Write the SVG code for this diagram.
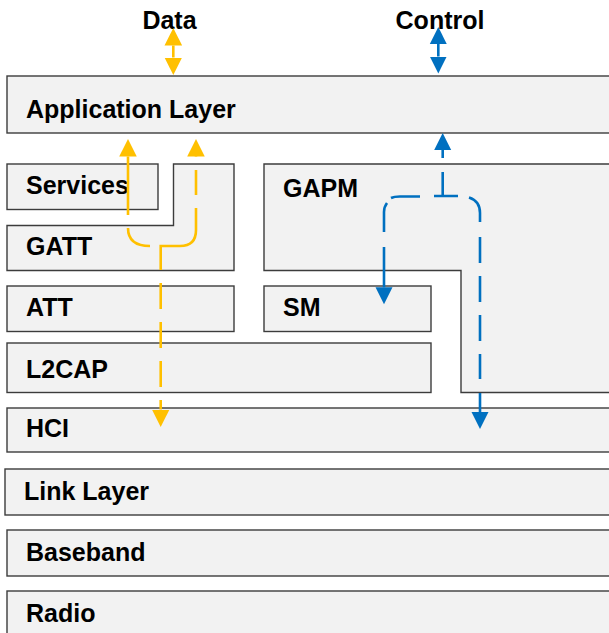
<svg xmlns="http://www.w3.org/2000/svg" width="609" height="633" viewBox="0 0 609 633">
<style>
.box{fill:#F2F2F2;stroke:#3C3C3C;stroke-width:1.4}
.lbl{font-family:"Liberation Sans",Arial,sans-serif;font-weight:bold;font-size:25px;fill:#000}
.y{fill:none;stroke:#FFC000;stroke-width:2.6}
.b{fill:none;stroke:#0070C0;stroke-width:2.6}
</style>
<defs>
<marker id="ay" markerUnits="userSpaceOnUse" markerWidth="18" markerHeight="18" viewBox="0 -8.5 17 17" refX="0" refY="0" orient="auto-start-reverse"><path d="M0,-8.3 L16.5,0 L0,8.3 z" fill="#FFC000"/></marker>
<marker id="ab" markerUnits="userSpaceOnUse" markerWidth="18" markerHeight="18" viewBox="0 -8.5 17 17" refX="0" refY="0" orient="auto-start-reverse"><path d="M0,-8 L16,0 L0,8 z" fill="#0070C0"/></marker>
</defs>
<g id="app"><rect class="box" x="7" y="76" width="612" height="57"/><text class="lbl" x="26" y="118">Application Layer</text></g>
<g id="services"><rect class="box" x="7" y="164" width="151" height="45.5"/><text class="lbl" x="26" y="193.5">Services</text></g>
<g id="gatt"><polygon class="box" points="7,225.5 173.5,225.5 173.5,164 234,164 234,270.5 7,270.5"/><text class="lbl" x="26" y="254.5">GATT</text></g>
<g id="att"><rect class="box" x="7" y="286" width="227" height="45.5"/><text class="lbl" x="26" y="315.5">ATT</text></g>
<g id="gapm"><polygon class="box" points="264,164 620,164 620,392.5 461,392.5 461,270.5 264,270.5"/><text class="lbl" x="283" y="196.5">GAPM</text></g>
<g id="sm"><rect class="box" x="264" y="286" width="167" height="45.5"/><text class="lbl" x="283" y="315.5">SM</text></g>
<g id="l2cap"><rect class="box" x="7" y="343" width="424" height="49.5"/><text class="lbl" x="26" y="377.5">L2CAP</text></g>
<g id="hci"><rect class="box" x="7" y="408" width="612" height="44"/><text class="lbl" x="26" y="437">HCI</text></g>
<g id="link"><rect class="box" x="5" y="469" width="614" height="46"/><text class="lbl" x="24" y="500">Link Layer</text></g>
<g id="baseband"><rect class="box" x="7" y="530" width="612" height="46"/><text class="lbl" x="26" y="561">Baseband</text></g>
<g id="radio"><rect class="box" x="7" y="591" width="612" height="50"/><text class="lbl" x="26" y="622">Radio</text></g>
<g id="labels">
<text class="lbl" x="169.5" y="28.5" text-anchor="middle">Data</text>
<text class="lbl" x="440" y="29" text-anchor="middle">Control</text>
</g>
<g id="connectors">
<path class="y" d="M173.3,45.5 V57.5" marker-start="url(#ay)" marker-end="url(#ay)"/>
<path class="b" d="M438.3,44 V56.5" marker-start="url(#ab)" marker-end="url(#ab)"/>
<path class="y" d="M196,157 V156.5" marker-end="url(#ay)"/>
<path class="y" d="M196,170 V195"/>
<path class="y" d="M196,208 V230 Q196,246 180,246 H160.7 V270"/>
<path class="y" d="M128,215 V156.5" marker-end="url(#ay)"/>
<path class="y" d="M128,228 Q128,246 150,246"/>
<path class="y" d="M160.7,283 V309"/>
<path class="y" d="M160.7,322 V348"/>
<path class="y" d="M160.7,361 V387"/>
<path class="y" d="M160.7,400 V409.5" marker-end="url(#ay)"/>
<path class="b" d="M442.7,158 V150" marker-end="url(#ab)"/>
<path class="b" d="M442.7,172 V196 M434,196 H458"/>
<path class="b" d="M420,196.5 H400 Q394,196.5 391,198"/>
<path class="b" d="M387,203 Q384,207 384,212 V232"/>
<path class="b" d="M384,247 V287.3" marker-end="url(#ab)"/>
<path class="b" d="M469,197.5 Q480,201 480,213 V222"/>
<path class="b" d="M480,237 V263 M480,276 V302 M480,315 V341 M480,354 V379"/>
<path class="b" d="M480,393 V412" marker-end="url(#ab)"/>
</g>
</svg>
